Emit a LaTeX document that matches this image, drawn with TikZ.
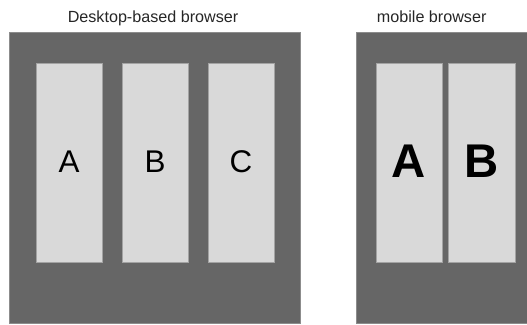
\documentclass[tikz,border=0pt]{standalone}
\usepackage{fontspec}
\setmainfont{Liberation Sans}
\definecolor{frame}{HTML}{666666}
\definecolor{frameline}{HTML}{8C8C8C}
\definecolor{panel}{HTML}{D9D9D9}
\definecolor{panelline}{HTML}{A3A3A3}
\begin{document}
\begin{tikzpicture}[x=1bp,y=-1bp,
  framebox/.style={fill=frame,draw=frameline,line width=0.8bp},
  panelbox/.style={fill=panel,draw=panelline,line width=0.8bp},
  title/.style={font=\fontsize{16.2}{19}\selectfont,text=black!85,inner sep=0pt},
  letter/.style={font=\fontsize{31.5}{34}\selectfont,inner sep=0pt},
  bigletter/.style={font=\fontsize{47.5}{50}\selectfont\bfseries,inner sep=0pt}]
\useasboundingbox (0,0) rectangle (527,324);
% desktop
\draw[framebox] (9.5,32.7) rectangle (300.3,323.2);
\node[title,anchor=base] (t1) at (153,22.3) {Desktop-based browser};
\draw[panelbox] (36,63) rectangle (102,262);
\draw[panelbox] (122,63) rectangle (188,262);
\draw[panelbox] (208,63) rectangle (274,262);
\node[letter] (da) at (69,161.5) {A};
\node[letter] (db) at (155,161.5) {B};
\node[letter] (dc) at (241,161.5) {C};
% mobile
\draw[framebox] (356,32.7) rectangle (530,323.2);
\node[title,anchor=base] (t2) at (431.7,22.3) {mobile browser};
\draw[panelbox] (376,63) rectangle (442,262);
\draw[panelbox] (448.3,63) rectangle (515,262);
\node[bigletter] (ma) at (409,161.7) {A};
\node[bigletter] (mb) at (481.7,161.7) {B};
\end{tikzpicture}
\end{document}
